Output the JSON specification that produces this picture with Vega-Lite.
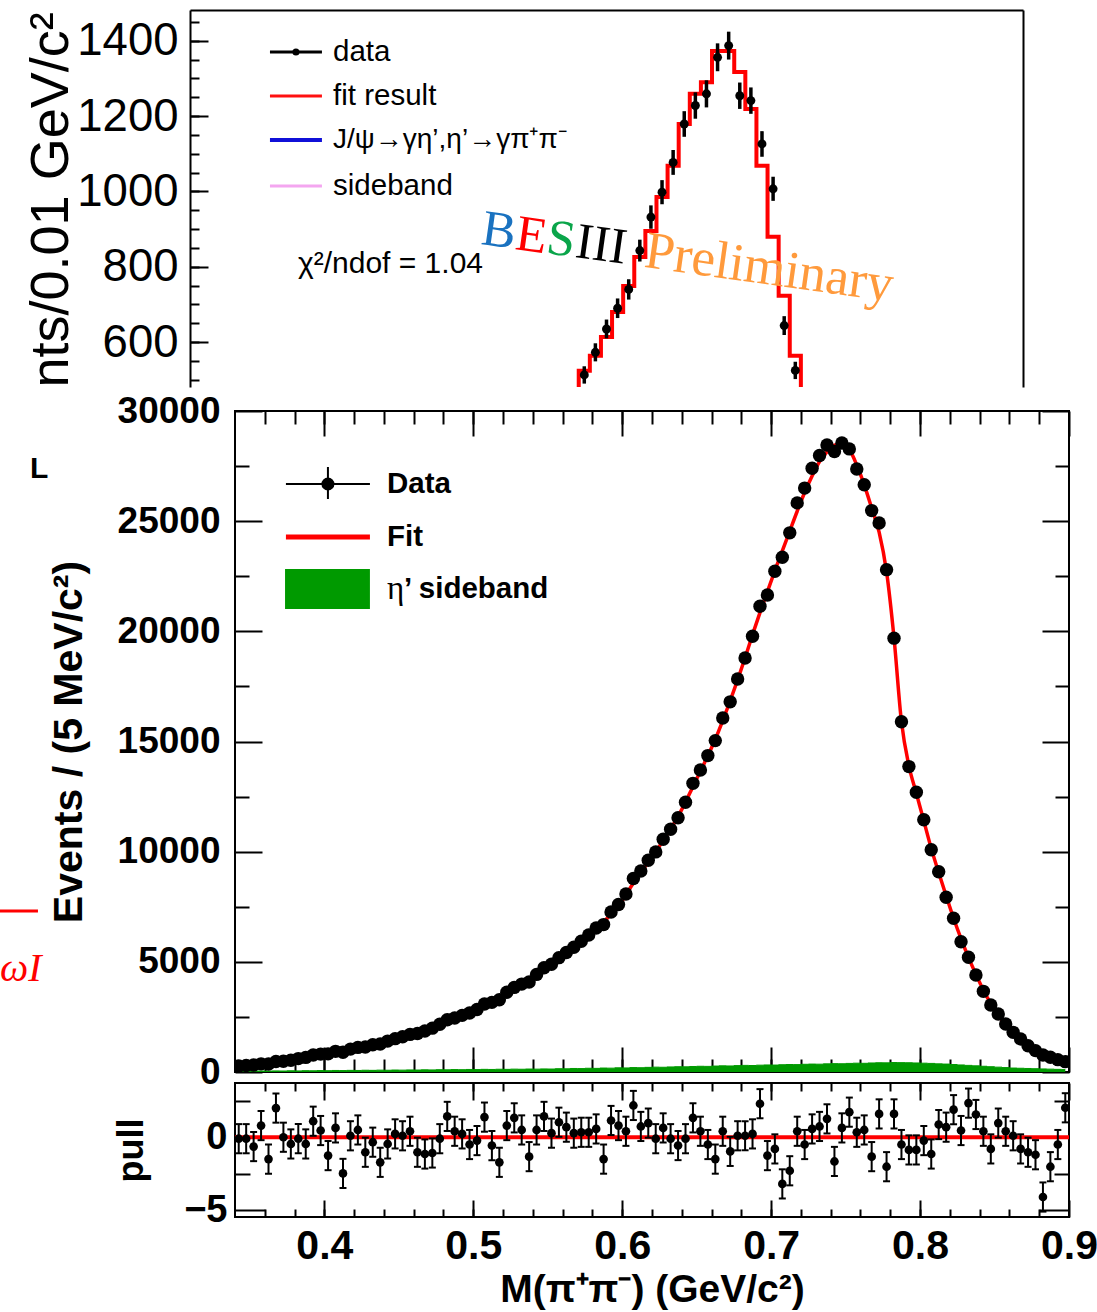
{
  "$schema": "https://vega.github.io/schema/vega-lite/v6.json",
  "padding": {"left": -3, "top": 10, "right": 5, "bottom": 0},
  "background": "white",
  "config": {
    "view": {"stroke": null},
    "font": "Liberation Sans",
    "axis": {
      "grid": false,
      "tickColor": "black",
      "domainColor": "black",
      "labelColor": "black",
      "titleColor": "black",
      "tickWidth": 2,
      "domainWidth": 2,
      "labelFont": "Liberation Sans",
      "titleFont": "Liberation Sans",
      "labelOverlap": false,
      "labelFlush": false
    }
  },
  "datasets": {
    "top_hist": [
      {"lo": 0.80, "n": 400}, {"lo": 0.81, "n": 440}, {"lo": 0.82, "n": 470},
      {"lo": 0.83, "n": 524}, {"lo": 0.84, "n": 564}, {"lo": 0.85, "n": 614},
      {"lo": 0.86, "n": 680}, {"lo": 0.87, "n": 749}, {"lo": 0.88, "n": 826},
      {"lo": 0.89, "n": 895}, {"lo": 0.90, "n": 985}, {"lo": 0.91, "n": 1068},
      {"lo": 0.92, "n": 1179}, {"lo": 0.93, "n": 1259}, {"lo": 0.94, "n": 1290},
      {"lo": 0.95, "n": 1373}, {"lo": 0.96, "n": 1373}, {"lo": 0.97, "n": 1317},
      {"lo": 0.98, "n": 1219}, {"lo": 0.99, "n": 1068}, {"lo": 1.00, "n": 880},
      {"lo": 1.01, "n": 723}, {"lo": 1.02, "n": 564}, {"lo": 1.03, "n": 420},
      {"lo": 1.04, "n": 330}, {"lo": 1.05, "n": 260}, {"lo": 1.06, "n": 260}
    ],
    "top_pts": [
      {"m": 0.835, "n": 513, "lo": 490, "hi": 536},
      {"m": 0.845, "n": 573, "lo": 549, "hi": 597},
      {"m": 0.855, "n": 635, "lo": 610, "hi": 660},
      {"m": 0.865, "n": 690, "lo": 664, "hi": 716},
      {"m": 0.875, "n": 740, "lo": 713, "hi": 767},
      {"m": 0.885, "n": 843, "lo": 814, "hi": 872},
      {"m": 0.895, "n": 932, "lo": 901, "hi": 963},
      {"m": 0.905, "n": 998, "lo": 966, "hi": 1030},
      {"m": 0.915, "n": 1077, "lo": 1044, "hi": 1110},
      {"m": 0.925, "n": 1179, "lo": 1145, "hi": 1213},
      {"m": 0.935, "n": 1228, "lo": 1193, "hi": 1263},
      {"m": 0.945, "n": 1259, "lo": 1223, "hi": 1295},
      {"m": 0.955, "n": 1356, "lo": 1319, "hi": 1393},
      {"m": 0.965, "n": 1387, "lo": 1350, "hi": 1424},
      {"m": 0.975, "n": 1254, "lo": 1219, "hi": 1289},
      {"m": 0.985, "n": 1241, "lo": 1206, "hi": 1276},
      {"m": 0.995, "n": 1126, "lo": 1092, "hi": 1160},
      {"m": 1.005, "n": 1007, "lo": 975, "hi": 1039},
      {"m": 1.015, "n": 644, "lo": 619, "hi": 669},
      {"m": 1.025, "n": 525, "lo": 502, "hi": 548}
    ],
    "mpp": [
      {"m": 0.3425, "n": 270, "fit": 265, "sb": 30, "p": -0.1, "lo": -1.1, "hi": 0.9},
      {"m": 0.3475, "n": 295, "fit": 292, "sb": 40, "p": -0.1, "lo": -1.1, "hi": 0.9},
      {"m": 0.3525, "n": 318, "fit": 322, "sb": 35, "p": -0.64, "lo": -1.64, "hi": 0.36},
      {"m": 0.3575, "n": 370, "fit": 355, "sb": 45, "p": 0.8, "lo": -0.2, "hi": 1.8},
      {"m": 0.3625, "n": 362, "fit": 392, "sb": 40, "p": -1.5, "lo": -2.5, "hi": -0.5},
      {"m": 0.3675, "n": 478, "fit": 435, "sb": 50, "p": 2.0, "lo": 1.0, "hi": 3.0},
      {"m": 0.3725, "n": 485, "fit": 485, "sb": 45, "p": 0.0, "lo": -1.0, "hi": 1.0},
      {"m": 0.3775, "n": 535, "fit": 545, "sb": 55, "p": -0.46, "lo": -1.46, "hi": 0.54},
      {"m": 0.3825, "n": 608, "fit": 610, "sb": 50, "p": -0.1, "lo": -1.1, "hi": 0.9},
      {"m": 0.3875, "n": 663, "fit": 675, "sb": 60, "p": -0.46, "lo": -1.46, "hi": 0.54},
      {"m": 0.3925, "n": 770, "fit": 740, "sb": 55, "p": 1.1, "lo": 0.1, "hi": 2.1},
      {"m": 0.3975, "n": 813, "fit": 800, "sb": 65, "p": 0.46, "lo": -0.54, "hi": 1.46},
      {"m": 0.4025, "n": 823, "fit": 860, "sb": 60, "p": -1.26, "lo": -2.26, "hi": -0.26},
      {"m": 0.4075, "n": 937, "fit": 918, "sb": 70, "p": 0.64, "lo": -0.36, "hi": 1.64},
      {"m": 0.4125, "n": 897, "fit": 975, "sb": 65, "p": -2.48, "lo": -3.48, "hi": -1.48},
      {"m": 0.4175, "n": 1038, "fit": 1035, "sb": 75, "p": 0.1, "lo": -0.9, "hi": 1.1},
      {"m": 0.4225, "n": 1116, "fit": 1100, "sb": 70, "p": 0.5, "lo": -0.5, "hi": 1.5},
      {"m": 0.4275, "n": 1135, "fit": 1170, "sb": 80, "p": -1.03, "lo": -2.03, "hi": -0.03},
      {"m": 0.4325, "n": 1238, "fit": 1250, "sb": 75, "p": -0.34, "lo": -1.34, "hi": 0.66},
      {"m": 0.4375, "n": 1272, "fit": 1335, "sb": 85, "p": -1.72, "lo": -2.72, "hi": -0.72},
      {"m": 0.4425, "n": 1402, "fit": 1420, "sb": 80, "p": -0.46, "lo": -1.46, "hi": 0.54},
      {"m": 0.4475, "n": 1514, "fit": 1505, "sb": 90, "p": 0.23, "lo": -0.77, "hi": 1.23},
      {"m": 0.4525, "n": 1599, "fit": 1595, "sb": 85, "p": 0.1, "lo": -0.9, "hi": 1.1},
      {"m": 0.4575, "n": 1707, "fit": 1690, "sb": 95, "p": 0.41, "lo": -0.59, "hi": 1.41},
      {"m": 0.4625, "n": 1750, "fit": 1795, "sb": 90, "p": -1.03, "lo": -2.03, "hi": -0.03},
      {"m": 0.4675, "n": 1860, "fit": 1910, "sb": 100, "p": -1.15, "lo": -2.15, "hi": -0.15},
      {"m": 0.4725, "n": 1990, "fit": 2040, "sb": 95, "p": -1.08, "lo": -2.08, "hi": -0.08},
      {"m": 0.4775, "n": 2165, "fit": 2170, "sb": 105, "p": -0.1, "lo": -1.1, "hi": 0.9},
      {"m": 0.4825, "n": 2370, "fit": 2300, "sb": 100, "p": 1.43, "lo": 0.43, "hi": 2.43},
      {"m": 0.4875, "n": 2450, "fit": 2430, "sb": 110, "p": 0.41, "lo": -0.59, "hi": 1.41},
      {"m": 0.4925, "n": 2570, "fit": 2560, "sb": 105, "p": 0.23, "lo": -0.77, "hi": 1.23},
      {"m": 0.4975, "n": 2675, "fit": 2700, "sb": 115, "p": -0.5, "lo": -1.5, "hi": 0.5},
      {"m": 0.5025, "n": 2840, "fit": 2850, "sb": 110, "p": -0.23, "lo": -1.23, "hi": 0.77},
      {"m": 0.5075, "n": 3085, "fit": 3010, "sb": 120, "p": 1.38, "lo": 0.38, "hi": 2.38},
      {"m": 0.5125, "n": 3160, "fit": 3190, "sb": 115, "p": -0.57, "lo": -1.57, "hi": 0.43},
      {"m": 0.5175, "n": 3280, "fit": 3380, "sb": 125, "p": -1.72, "lo": -2.72, "hi": -0.72},
      {"m": 0.5225, "n": 3620, "fit": 3570, "sb": 120, "p": 0.8, "lo": -0.2, "hi": 1.8},
      {"m": 0.5275, "n": 3840, "fit": 3760, "sb": 130, "p": 1.33, "lo": 0.33, "hi": 2.33},
      {"m": 0.5325, "n": 3990, "fit": 3960, "sb": 125, "p": 0.5, "lo": -0.5, "hi": 1.5},
      {"m": 0.5375, "n": 4085, "fit": 4170, "sb": 135, "p": -1.33, "lo": -2.33, "hi": -0.33},
      {"m": 0.5425, "n": 4430, "fit": 4400, "sb": 130, "p": 0.5, "lo": -0.5, "hi": 1.5},
      {"m": 0.5475, "n": 4730, "fit": 4630, "sb": 140, "p": 1.43, "lo": 0.43, "hi": 2.43},
      {"m": 0.5525, "n": 4890, "fit": 4870, "sb": 135, "p": 0.28, "lo": -0.72, "hi": 1.28},
      {"m": 0.5575, "n": 5190, "fit": 5120, "sb": 150, "p": 1.03, "lo": 0.03, "hi": 2.03},
      {"m": 0.5625, "n": 5420, "fit": 5370, "sb": 145, "p": 0.69, "lo": -0.31, "hi": 1.69},
      {"m": 0.5675, "n": 5660, "fit": 5640, "sb": 160, "p": 0.28, "lo": -0.72, "hi": 1.28},
      {"m": 0.5725, "n": 5935, "fit": 5910, "sb": 155, "p": 0.34, "lo": -0.66, "hi": 1.34},
      {"m": 0.5775, "n": 6215, "fit": 6190, "sb": 170, "p": 0.34, "lo": -0.66, "hi": 1.34},
      {"m": 0.5825, "n": 6535, "fit": 6490, "sb": 165, "p": 0.57, "lo": -0.43, "hi": 1.57},
      {"m": 0.5875, "n": 6690, "fit": 6810, "sb": 180, "p": -1.5, "lo": -2.5, "hi": -0.5},
      {"m": 0.5925, "n": 7260, "fit": 7160, "sb": 175, "p": 1.15, "lo": 0.15, "hi": 2.15},
      {"m": 0.5975, "n": 7600, "fit": 7530, "sb": 190, "p": 0.8, "lo": -0.2, "hi": 1.8},
      {"m": 0.6025, "n": 8080, "fit": 8040, "sb": 185, "p": 0.41, "lo": -0.59, "hi": 1.41},
      {"m": 0.6075, "n": 8780, "fit": 8580, "sb": 200, "p": 2.18, "lo": 1.18, "hi": 3.18},
      {"m": 0.6125, "n": 9120, "fit": 9050, "sb": 195, "p": 0.74, "lo": -0.26, "hi": 1.74},
      {"m": 0.6175, "n": 9610, "fit": 9520, "sb": 210, "p": 0.97, "lo": -0.03, "hi": 1.97},
      {"m": 0.6225, "n": 9990, "fit": 10000, "sb": 220, "p": -0.1, "lo": -1.1, "hi": 0.9},
      {"m": 0.6275, "n": 10560, "fit": 10500, "sb": 215, "p": 0.64, "lo": -0.36, "hi": 1.64},
      {"m": 0.6325, "n": 11020, "fit": 11030, "sb": 230, "p": -0.1, "lo": -1.1, "hi": 0.9},
      {"m": 0.6375, "n": 11540, "fit": 11600, "sb": 240, "p": -0.57, "lo": -1.57, "hi": 0.43},
      {"m": 0.6425, "n": 12240, "fit": 12250, "sb": 235, "p": -0.1, "lo": -1.1, "hi": 0.9},
      {"m": 0.6475, "n": 13100, "fit": 12950, "sb": 250, "p": 1.33, "lo": 0.33, "hi": 2.33},
      {"m": 0.6525, "n": 13710, "fit": 13650, "sb": 260, "p": 0.41, "lo": -0.59, "hi": 1.41},
      {"m": 0.6575, "n": 14360, "fit": 14350, "sb": 255, "p": -0.5, "lo": -1.5, "hi": 0.5},
      {"m": 0.6625, "n": 15040, "fit": 15100, "sb": 270, "p": -1.5, "lo": -2.5, "hi": -0.5},
      {"m": 0.6675, "n": 16070, "fit": 15950, "sb": 280, "p": 0.41, "lo": -0.59, "hi": 1.41},
      {"m": 0.6725, "n": 16800, "fit": 16850, "sb": 275, "p": -0.97, "lo": -1.97, "hi": 0.03},
      {"m": 0.6775, "n": 17840, "fit": 17800, "sb": 290, "p": 0.1, "lo": -0.9, "hi": 1.1},
      {"m": 0.6825, "n": 18790, "fit": 18800, "sb": 300, "p": 0.1, "lo": -0.9, "hi": 1.1},
      {"m": 0.6875, "n": 19780, "fit": 19850, "sb": 295, "p": 0.23, "lo": -0.77, "hi": 1.23},
      {"m": 0.6925, "n": 21140, "fit": 20850, "sb": 310, "p": 2.3, "lo": 1.3, "hi": 3.3},
      {"m": 0.6975, "n": 21650, "fit": 21800, "sb": 320, "p": -1.26, "lo": -2.26, "hi": -0.26},
      {"m": 0.7025, "n": 22730, "fit": 22750, "sb": 315, "p": -0.8, "lo": -1.8, "hi": 0.2},
      {"m": 0.7075, "n": 23360, "fit": 23650, "sb": 330, "p": -3.2, "lo": -4.2, "hi": -2.2},
      {"m": 0.7125, "n": 24470, "fit": 24550, "sb": 340, "p": -2.3, "lo": -3.3, "hi": -1.3},
      {"m": 0.7175, "n": 25830, "fit": 25450, "sb": 335, "p": 0.41, "lo": -0.59, "hi": 1.41},
      {"m": 0.7225, "n": 26500, "fit": 26300, "sb": 350, "p": -0.5, "lo": -1.5, "hi": 0.5},
      {"m": 0.7275, "n": 27400, "fit": 27050, "sb": 360, "p": 0.57, "lo": -0.43, "hi": 1.57},
      {"m": 0.7325, "n": 27980, "fit": 27700, "sb": 355, "p": 0.74, "lo": -0.26, "hi": 1.74},
      {"m": 0.7375, "n": 28460, "fit": 28150, "sb": 370, "p": 1.26, "lo": 0.26, "hi": 2.26},
      {"m": 0.7425, "n": 28160, "fit": 28450, "sb": 380, "p": -1.66, "lo": -2.66, "hi": -0.66},
      {"m": 0.7475, "n": 28550, "fit": 28500, "sb": 375, "p": 0.64, "lo": -0.36, "hi": 1.64},
      {"m": 0.7525, "n": 28280, "fit": 28250, "sb": 390, "p": 1.72, "lo": 0.72, "hi": 2.72},
      {"m": 0.7575, "n": 27370, "fit": 27550, "sb": 400, "p": 0.34, "lo": -0.66, "hi": 1.34},
      {"m": 0.7625, "n": 26650, "fit": 26650, "sb": 395, "p": 0.5, "lo": -0.5, "hi": 1.5},
      {"m": 0.7675, "n": 25480, "fit": 25600, "sb": 410, "p": -1.33, "lo": -2.33, "hi": -0.33},
      {"m": 0.7725, "n": 24920, "fit": 24500, "sb": 420, "p": 1.6, "lo": 0.6, "hi": 2.6},
      {"m": 0.7775, "n": 22800, "fit": 22700, "sb": 415, "p": -2.02, "lo": -3.02, "hi": -1.02},
      {"m": 0.7825, "n": 19690, "fit": 19700, "sb": 430, "p": 1.6, "lo": 0.6, "hi": 2.6},
      {"m": 0.7875, "n": 15900, "fit": 15900, "sb": 425, "p": -0.5, "lo": -1.5, "hi": 0.5},
      {"m": 0.7925, "n": 13860, "fit": 13900, "sb": 420, "p": -0.87, "lo": -1.87, "hi": 0.13},
      {"m": 0.7975, "n": 12700, "fit": 12650, "sb": 410, "p": -0.87, "lo": -1.87, "hi": 0.13},
      {"m": 0.8025, "n": 11450, "fit": 11400, "sb": 400, "p": -0.23, "lo": -1.23, "hi": 0.77},
      {"m": 0.8075, "n": 10090, "fit": 10150, "sb": 390, "p": -1.15, "lo": -2.15, "hi": -0.15},
      {"m": 0.8125, "n": 9090, "fit": 9050, "sb": 370, "p": 0.87, "lo": -0.13, "hi": 1.87},
      {"m": 0.8175, "n": 7930, "fit": 8000, "sb": 360, "p": 0.69, "lo": -0.31, "hi": 1.69},
      {"m": 0.8225, "n": 6980, "fit": 6980, "sb": 340, "p": 1.89, "lo": 0.89, "hi": 2.89},
      {"m": 0.8275, "n": 5910, "fit": 6050, "sb": 320, "p": 0.46, "lo": -0.54, "hi": 1.46},
      {"m": 0.8325, "n": 5210, "fit": 5200, "sb": 300, "p": 2.34, "lo": 1.34, "hi": 3.34},
      {"m": 0.8375, "n": 4400, "fit": 4430, "sb": 280, "p": 1.56, "lo": 0.56, "hi": 2.56},
      {"m": 0.8425, "n": 3660, "fit": 3720, "sb": 260, "p": 0.41, "lo": -0.59, "hi": 1.41},
      {"m": 0.8475, "n": 3040, "fit": 3100, "sb": 240, "p": -0.8, "lo": -1.8, "hi": 0.2},
      {"m": 0.8525, "n": 2630, "fit": 2580, "sb": 220, "p": 0.97, "lo": -0.03, "hi": 1.97},
      {"m": 0.8575, "n": 2180, "fit": 2140, "sb": 200, "p": 0.41, "lo": -0.59, "hi": 1.41},
      {"m": 0.8625, "n": 1800, "fit": 1770, "sb": 180, "p": 0.1, "lo": -0.9, "hi": 1.1},
      {"m": 0.8675, "n": 1500, "fit": 1460, "sb": 170, "p": -0.8, "lo": -1.8, "hi": 0.2},
      {"m": 0.8725, "n": 1190, "fit": 1190, "sb": 160, "p": -1.03, "lo": -2.03, "hi": -0.03},
      {"m": 0.8775, "n": 970, "fit": 970, "sb": 150, "p": -1.2, "lo": -2.2, "hi": -0.2},
      {"m": 0.8825, "n": 770, "fit": 790, "sb": 140, "p": -4.1, "lo": -5.1, "hi": -3.1},
      {"m": 0.8875, "n": 670, "fit": 650, "sb": 130, "p": -2.02, "lo": -3.02, "hi": -1.02},
      {"m": 0.8925, "n": 560, "fit": 540, "sb": 120, "p": -0.5, "lo": -1.5, "hi": 0.5},
      {"m": 0.8975, "n": 470, "fit": 450, "sb": 110, "p": 2.02, "lo": 1.02, "hi": 3.02}
    ]
  },
  "vconcat": [
    {
      "width": 833,
      "height": 377,
      "view": {"stroke": null},
      "resolve": {"axis": {"x": "independent", "y": "independent"}},
      "layer": [
        {
          "data": {"name": "top_hist"},
          "mark": {"type": "line", "interpolate": "step-after", "color": "#ff0000", "strokeWidth": 4, "strokeJoin": "miter", "clip": true},
          "encoding": {
            "x": {"field": "lo", "type": "quantitative", "scale": {"domain": [0.48, 1.23], "nice": false, "zero": false},
                  "axis": {"orient": "top", "ticks": false, "labels": false, "domain": true, "title": null}},
            "y": {"field": "n", "type": "quantitative", "scale": {"domain": [481, 1481.5], "nice": false, "zero": false},
                  "axis": {"orient": "left", "values": [600, 800, 1000, 1200, 1400], "format": "d", "tickSize": -18, "labelPadding": 30,
                           "labelFontSize": 45.5, "domain": true, "title": "nts/0.01 GeV/c²", "titleFontSize": 54,
                           "titleFontWeight": "normal", "titleAnchor": "start", "titlePadding": -2}}
          }
        },
        {
          "data": {"name": "top_pts"},
          "mark": {"type": "rule", "color": "black", "strokeWidth": 3.5, "clip": true},
          "encoding": {
            "x": {"field": "m", "type": "quantitative", "axis": null},
            "y": {"field": "lo", "type": "quantitative",
                  "axis": {"orient": "left", "values": [500, 550, 600, 650, 700, 750, 800, 850, 900, 950, 1000, 1050, 1100, 1150, 1200, 1250, 1300, 1350, 1400, 1450],
                           "tickSize": -9, "labels": false, "domain": false, "title": null}},
            "y2": {"field": "hi"}
          }
        },
        {
          "data": {"name": "top_pts"},
          "mark": {"type": "circle", "size": 80, "color": "black", "opacity": 1, "clip": true},
          "encoding": {
            "x": {"field": "m", "type": "quantitative", "axis": null},
            "y": {"field": "n", "type": "quantitative",
                  "axis": {"orient": "right", "ticks": false, "labels": false, "domain": true, "title": null}}
          }
        },
        {
          "data": {"values": [{}]},
          "mark": {"type": "rule", "color": "black", "strokeWidth": 3},
          "encoding": {"x": {"datum": 0.552, "type": "quantitative", "axis": null}, "x2": {"datum": 0.5988}, "y": {"datum": 1370.1, "type": "quantitative", "axis": null}}
        },
        {
          "data": {"values": [{}]},
          "mark": {"type": "circle", "size": 50, "color": "black", "opacity": 1},
          "encoding": {"x": {"datum": 0.5754, "type": "quantitative", "axis": null}, "y": {"datum": 1370.1, "type": "quantitative", "axis": null}}
        },
        {
          "data": {"values": [{}]},
          "mark": {"type": "rule", "color": "#ff1010", "strokeWidth": 3},
          "encoding": {"x": {"datum": 0.552, "type": "quantitative", "axis": null}, "x2": {"datum": 0.5988}, "y": {"datum": 1253.4, "type": "quantitative", "axis": null}}
        },
        {
          "data": {"values": [{}]},
          "mark": {"type": "rule", "color": "#1010d8", "strokeWidth": 4},
          "encoding": {"x": {"datum": 0.552, "type": "quantitative", "axis": null}, "x2": {"datum": 0.5988}, "y": {"datum": 1136.7, "type": "quantitative", "axis": null}}
        },
        {
          "data": {"values": [{}]},
          "mark": {"type": "rule", "color": "#f4a6f0", "strokeWidth": 3},
          "encoding": {"x": {"datum": 0.552, "type": "quantitative", "axis": null}, "x2": {"datum": 0.5988}, "y": {"datum": 1014.7, "type": "quantitative", "axis": null}}
        },
        {
          "data": {"values": [{}]},
          "mark": {"type": "text", "text": "data", "fontSize": 29.5, "align": "left", "baseline": "middle", "color": "black"},
          "encoding": {"x": {"datum": 0.6088, "type": "quantitative", "axis": null}, "y": {"datum": 1370.1, "type": "quantitative", "axis": null}}
        },
        {
          "data": {"values": [{}]},
          "mark": {"type": "text", "text": "fit result", "fontSize": 29.5, "align": "left", "baseline": "middle", "color": "black"},
          "encoding": {"x": {"datum": 0.6088, "type": "quantitative", "axis": null}, "y": {"datum": 1253.4, "type": "quantitative", "axis": null}}
        },
        {
          "data": {"values": [{}]},
          "mark": {"type": "text", "text": "J/ψ→γη’,η’→γπ⁺π⁻", "fontSize": 28, "align": "left", "baseline": "middle", "color": "black"},
          "encoding": {"x": {"datum": 0.6088, "type": "quantitative", "axis": null}, "y": {"datum": 1136.7, "type": "quantitative", "axis": null}}
        },
        {
          "data": {"values": [{}]},
          "mark": {"type": "text", "text": "sideband", "fontSize": 29.5, "align": "left", "baseline": "middle", "color": "black"},
          "encoding": {"x": {"datum": 0.6088, "type": "quantitative", "axis": null}, "y": {"datum": 1014.7, "type": "quantitative", "axis": null}}
        },
        {
          "data": {"values": [{}]},
          "mark": {"type": "text", "text": "χ²/ndof = 1.04", "fontSize": 30, "align": "left", "baseline": "middle", "color": "black"},
          "encoding": {"x": {"datum": 0.5772, "type": "quantitative", "axis": null}, "y": {"datum": 807.8, "type": "quantitative", "axis": null}}
        },
        {
          "data": {"values": [{}]},
          "mark": {"type": "text", "text": "B", "font": "Liberation Serif", "fontSize": 51, "angle": 8, "align": "left", "baseline": "alphabetic", "color": "#1a72c0"},
          "encoding": {"x": {"datum": 0.7411, "type": "quantitative", "axis": null}, "y": {"datum": 860.8, "type": "quantitative", "axis": null}}
        },
        {
          "data": {"values": [{}]},
          "mark": {"type": "text", "text": "E", "font": "Liberation Serif", "fontSize": 51, "angle": 8, "align": "left", "baseline": "alphabetic", "color": "#ff0000"},
          "encoding": {"x": {"datum": 0.7717, "type": "quantitative", "axis": null}, "y": {"datum": 847.5, "type": "quantitative", "axis": null}}
        },
        {
          "data": {"values": [{}]},
          "mark": {"type": "text", "text": "S", "font": "Liberation Serif", "fontSize": 51, "angle": 8, "align": "left", "baseline": "alphabetic", "color": "#0aa54a"},
          "encoding": {"x": {"datum": 0.7996, "type": "quantitative", "axis": null}, "y": {"datum": 836.9, "type": "quantitative", "axis": null}}
        },
        {
          "data": {"values": [{}]},
          "mark": {"type": "text", "text": "III", "font": "Liberation Serif", "fontSize": 51, "angle": 8, "align": "left", "baseline": "alphabetic", "color": "black"},
          "encoding": {"x": {"datum": 0.8257, "type": "quantitative", "axis": null}, "y": {"datum": 826.3, "type": "quantitative", "axis": null}}
        },
        {
          "data": {"values": [{}]},
          "mark": {"type": "text", "text": "Preliminary", "font": "Liberation Serif", "fontSize": 53, "angle": 8, "align": "left", "baseline": "alphabetic", "color": "#ff9a3c"},
          "encoding": {"x": {"datum": 0.8879, "type": "quantitative", "axis": null}, "y": {"datum": 799.8, "type": "quantitative", "axis": null}}
        }
      ]
    },
    {
      "hconcat": [
        {
          "width": 45,
          "height": 10,
          "data": {"values": []},
          "mark": {"type": "point", "opacity": 0},
          "encoding": {}
        },
        {
          "vconcat": [
            {
              "width": 834,
              "height": 661,
              "view": {"stroke": "black", "strokeWidth": 2},
              "resolve": {"axis": {"x": "independent", "y": "independent"}},
              "layer": [
                {
                  "data": {"name": "mpp"},
                  "mark": {"type": "area", "interpolate": "step", "color": "#009a00", "opacity": 1, "clip": true},
                  "encoding": {
                    "x": {"field": "m", "type": "quantitative", "scale": {"domain": [0.34, 0.9], "nice": false, "zero": false},
                          "axis": {"orient": "bottom", "values": [0.4, 0.5, 0.6, 0.7, 0.8, 0.9], "tickSize": -25, "labels": false, "domain": false, "title": null}},
                    "y": {"field": "sb", "type": "quantitative", "scale": {"domain": [0, 30000], "nice": false},
                          "axis": {"orient": "left", "values": [0, 5000, 10000, 15000, 20000, 25000, 30000], "format": "d",
                                   "tickSize": -27, "labelPadding": 42, "labelFontSize": 37, "labelFontWeight": "bold",
                                   "domain": false, "title": "Events / (5 MeV/c²)", "titleFontSize": 41,
                                   "titleFontWeight": "bold", "titlePadding": 27}}
                  }
                },
                {
                  "data": {"name": "mpp"},
                  "mark": {"type": "line", "interpolate": "step", "color": "#009a00", "strokeWidth": 1, "clip": true},
                  "encoding": {
                    "x": {"field": "m", "type": "quantitative",
                          "axis": {"orient": "top", "values": [0.36, 0.38, 0.4, 0.42, 0.44, 0.46, 0.48, 0.5, 0.52, 0.54, 0.56, 0.58, 0.6, 0.62, 0.64, 0.66, 0.68, 0.7, 0.72, 0.74, 0.76, 0.78, 0.8, 0.82, 0.84, 0.86, 0.88],
                                   "tickSize": -13, "labels": false, "domain": false, "title": null}},
                    "y": {"field": "sb", "type": "quantitative",
                          "axis": {"orient": "right", "values": [2500, 7500, 12500, 17500, 22500, 27500], "tickSize": -14, "labels": false, "domain": false, "title": null}}
                  }
                },
                {
                  "data": {"name": "mpp"},
                  "mark": {"type": "line", "interpolate": "monotone", "color": "#ff0000", "strokeWidth": 3.5, "clip": true},
                  "encoding": {
                    "x": {"field": "m", "type": "quantitative",
                          "axis": {"orient": "bottom", "values": [0.36, 0.38, 0.4, 0.42, 0.44, 0.46, 0.48, 0.5, 0.52, 0.54, 0.56, 0.58, 0.6, 0.62, 0.64, 0.66, 0.68, 0.7, 0.72, 0.74, 0.76, 0.78, 0.8, 0.82, 0.84, 0.86, 0.88],
                                   "tickSize": -13, "labels": false, "domain": false, "title": null}},
                    "y": {"field": "fit", "type": "quantitative",
                          "axis": {"orient": "left", "values": [2500, 7500, 12500, 17500, 22500, 27500], "tickSize": -14, "labels": false, "domain": false, "title": null}}
                  }
                },
                {
                  "data": {"name": "mpp"},
                  "mark": {"type": "circle", "size": 180, "color": "black", "opacity": 1, "clip": true},
                  "encoding": {
                    "x": {"field": "m", "type": "quantitative",
                          "axis": {"orient": "top", "values": [0.4, 0.5, 0.6, 0.7, 0.8, 0.9], "tickSize": -25, "labels": false, "domain": false, "title": null}},
                    "y": {"field": "n", "type": "quantitative",
                          "axis": {"orient": "right", "values": [0, 5000, 10000, 15000, 20000, 25000, 30000], "tickSize": -27, "labels": false, "domain": false, "title": null}}
                  }
                },
                {
                  "data": {"values": [{}]},
                  "mark": {"type": "rule", "color": "black", "strokeWidth": 2},
                  "encoding": {"x": {"datum": 0.3742, "type": "quantitative", "axis": null}, "x2": {"datum": 0.4306}, "y": {"datum": 26687, "type": "quantitative", "axis": null}}
                },
                {
                  "data": {"values": [{}]},
                  "mark": {"type": "rule", "color": "black", "strokeWidth": 2},
                  "encoding": {"x": {"datum": 0.4024, "type": "quantitative", "axis": null}, "y": {"datum": 27459, "type": "quantitative", "axis": null}, "y2": {"datum": 26006}}
                },
                {
                  "data": {"values": [{}]},
                  "mark": {"type": "circle", "size": 170, "color": "black", "opacity": 1},
                  "encoding": {"x": {"datum": 0.4024, "type": "quantitative", "axis": null}, "y": {"datum": 26687, "type": "quantitative", "axis": null}}
                },
                {
                  "data": {"values": [{}]},
                  "mark": {"type": "rule", "color": "#ff0000", "strokeWidth": 5},
                  "encoding": {"x": {"datum": 0.3742, "type": "quantitative", "axis": null}, "x2": {"datum": 0.4306}, "y": {"datum": 24282, "type": "quantitative", "axis": null}}
                },
                {
                  "data": {"values": [{}]},
                  "mark": {"type": "rect", "color": "#009a00", "opacity": 1},
                  "encoding": {"x": {"datum": 0.3736, "type": "quantitative", "axis": null}, "x2": {"datum": 0.4306}, "y": {"datum": 22829, "type": "quantitative", "axis": null}, "y2": {"datum": 21014}}
                },
                {
                  "data": {"values": [{}]},
                  "mark": {"type": "text", "text": "Data", "fontSize": 29.5, "fontWeight": "bold", "align": "left", "baseline": "middle", "color": "black"},
                  "encoding": {"x": {"datum": 0.4421, "type": "quantitative", "axis": null}, "y": {"datum": 26687, "type": "quantitative", "axis": null}}
                },
                {
                  "data": {"values": [{}]},
                  "mark": {"type": "text", "text": "Fit", "fontSize": 29.5, "fontWeight": "bold", "align": "left", "baseline": "middle", "color": "black"},
                  "encoding": {"x": {"datum": 0.4421, "type": "quantitative", "axis": null}, "y": {"datum": 24282, "type": "quantitative", "axis": null}}
                },
                {
                  "data": {"values": [{}]},
                  "mark": {"type": "text", "text": "η", "font": "Liberation Serif", "fontSize": 33, "align": "left", "baseline": "middle", "color": "black"},
                  "encoding": {"x": {"datum": 0.4421, "type": "quantitative", "axis": null}, "y": {"datum": 21921, "type": "quantitative", "axis": null}}
                },
                {
                  "data": {"values": [{}]},
                  "mark": {"type": "text", "text": "’ sideband", "fontSize": 29.5, "fontWeight": "bold", "align": "left", "baseline": "middle", "color": "black"},
                  "encoding": {"x": {"datum": 0.4535, "type": "quantitative", "axis": null}, "y": {"datum": 21921, "type": "quantitative", "axis": null}}
                },
                {
                  "data": {"values": [{}]},
                  "mark": {"type": "text", "text": "L", "fontSize": 30, "fontWeight": "bold", "align": "left", "baseline": "middle", "color": "black", "clip": false},
                  "encoding": {"x": {"datum": 0.2023, "type": "quantitative", "axis": null}, "y": {"datum": 27368, "type": "quantitative", "axis": null}}
                },
                {
                  "data": {"values": [{}]},
                  "mark": {"type": "rule", "color": "#ff0000", "strokeWidth": 3, "clip": false},
                  "encoding": {"x": {"datum": 0.1822, "type": "quantitative", "axis": null}, "x2": {"datum": 0.2077}, "y": {"datum": 7307, "type": "quantitative", "axis": null}}
                },
                {
                  "data": {"values": [{}]},
                  "mark": {"type": "text", "text": "ωI", "font": "Liberation Serif", "fontStyle": "italic", "fontSize": 40, "align": "left", "baseline": "middle", "color": "#ff0000", "clip": false},
                  "encoding": {"x": {"datum": 0.1822, "type": "quantitative", "axis": null}, "y": {"datum": 4675, "type": "quantitative", "axis": null}}
                }
              ]
            },
            {
              "width": 834,
              "height": 134,
              "view": {"stroke": "black", "strokeWidth": 2},
              "resolve": {"axis": {"x": "independent", "y": "independent"}},
              "layer": [
                {
                  "data": {"values": [{}]},
                  "mark": {"type": "rule", "color": "#ff0000", "strokeWidth": 4},
                  "encoding": {"y": {"datum": 0, "type": "quantitative", "scale": {"domain": [-5.47, 3.72], "nice": false, "zero": false}, "axis": null}}
                },
                {
                  "data": {"name": "mpp"},
                  "mark": {"type": "rule", "color": "black", "strokeWidth": 2},
                  "encoding": {
                    "x": {"field": "m", "type": "quantitative", "scale": {"domain": [0.34, 0.9], "nice": false, "zero": false},
                          "axis": {"orient": "bottom", "values": [0.4, 0.5, 0.6, 0.7, 0.8, 0.9], "format": ".1f",
                                   "tickSize": -17, "labelPadding": 26, "labelFontWeight": "bold", "labelFontSize": 41, "domain": false,
                                   "title": "M(π⁺π⁻) (GeV/c²)", "titleFontSize": 39, "titleFontWeight": "bold", "titlePadding": 4}},
                    "y": {"field": "lo", "type": "quantitative", "scale": {"domain": [-5.47, 3.72], "nice": false, "zero": false},
                          "axis": {"orient": "left", "values": [-5, 0], "tickSize": -30, "labelPadding": 38, "labelFontSize": 38,
                                   "labelFontWeight": "bold", "domain": false, "title": "pull", "titleFontSize": 36,
                                   "titleFontWeight": "bold", "titlePadding": 33}},
                    "y2": {"field": "hi"}
                  }
                },
                {
                  "data": {"name": "mpp"},
                  "mark": {"type": "tick", "orient": "horizontal", "size": 7, "thickness": 2, "color": "black", "opacity": 1},
                  "encoding": {
                    "x": {"field": "m", "type": "quantitative",
                          "axis": {"orient": "bottom", "values": [0.36, 0.38, 0.4, 0.42, 0.44, 0.46, 0.48, 0.5, 0.52, 0.54, 0.56, 0.58, 0.6, 0.62, 0.64, 0.66, 0.68, 0.7, 0.72, 0.74, 0.76, 0.78, 0.8, 0.82, 0.84, 0.86, 0.88],
                                   "tickSize": -8, "labels": false, "domain": false, "title": null}},
                    "y": {"field": "lo", "type": "quantitative",
                          "axis": {"orient": "left", "values": [-2.5, 2.5], "tickSize": -15, "labels": false, "domain": false, "title": null}}
                  }
                },
                {
                  "data": {"name": "mpp"},
                  "mark": {"type": "tick", "orient": "horizontal", "size": 7, "thickness": 2, "color": "black", "opacity": 1},
                  "encoding": {
                    "x": {"field": "m", "type": "quantitative",
                          "axis": {"orient": "top", "values": [0.4, 0.5, 0.6, 0.7, 0.8, 0.9], "tickSize": -17, "labels": false, "domain": false, "title": null}},
                    "y": {"field": "hi", "type": "quantitative",
                          "axis": {"orient": "right", "values": [-5, 0], "tickSize": -30, "labels": false, "domain": false, "title": null}}
                  }
                },
                {
                  "data": {"name": "mpp"},
                  "mark": {"type": "circle", "size": 75, "color": "black", "opacity": 1},
                  "encoding": {
                    "x": {"field": "m", "type": "quantitative",
                          "axis": {"orient": "top", "values": [0.36, 0.38, 0.4, 0.42, 0.44, 0.46, 0.48, 0.5, 0.52, 0.54, 0.56, 0.58, 0.6, 0.62, 0.64, 0.66, 0.68, 0.7, 0.72, 0.74, 0.76, 0.78, 0.8, 0.82, 0.84, 0.86, 0.88],
                                   "tickSize": -8, "labels": false, "domain": false, "title": null}},
                    "y": {"field": "p", "type": "quantitative",
                          "axis": {"orient": "right", "values": [-2.5, 2.5], "tickSize": -15, "labels": false, "domain": false, "title": null}}
                  }
                }
              ]
            }
          ],
          "spacing": 11,
          "bounds": "flush"
        }
      ],
      "spacing": 0,
      "bounds": "flush"
    }
  ],
  "spacing": 24,
  "bounds": "flush"
}
